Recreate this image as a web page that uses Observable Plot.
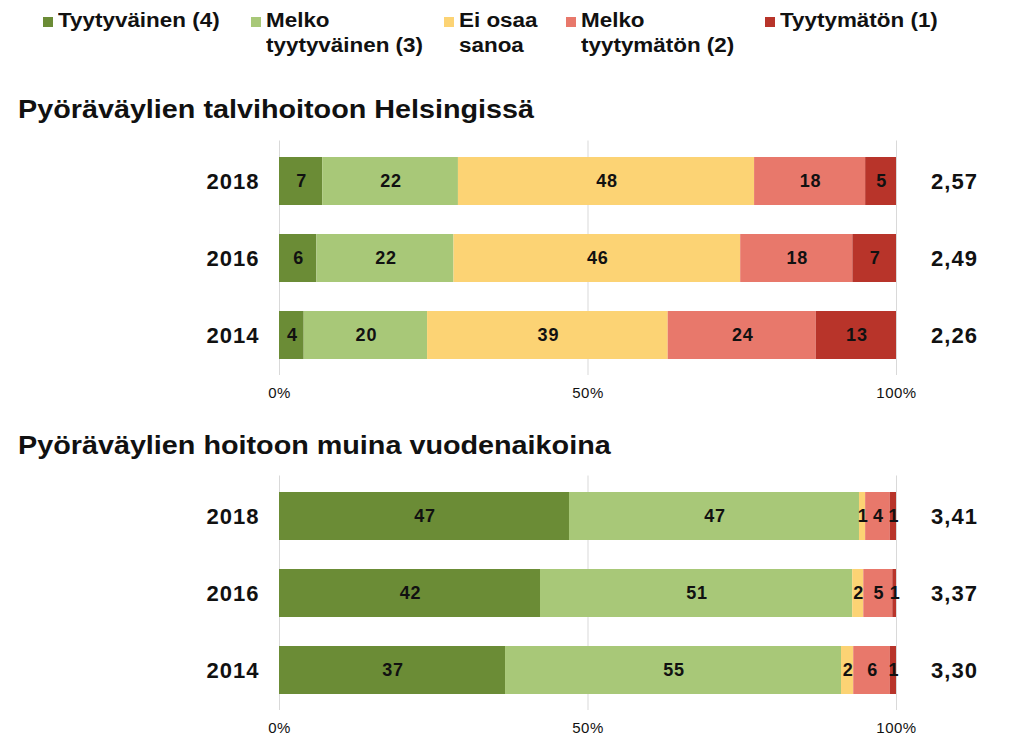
<!DOCTYPE html>
<html>
<head>
<meta charset="utf-8">
<script src="https://cdn.jsdelivr.net/npm/d3@7"></script>
<script src="https://cdn.jsdelivr.net/npm/@observablehq/plot@0.6"></script>
<style>
  html, body { margin: 0; padding: 0; background: #fff; overflow: hidden; }
  #page { position: relative; width: 1023px; height: 741px; font-family: "Liberation Sans", Arial, sans-serif; color: #111; }
  .leg { position: absolute; top: 8px; font-weight: bold; font-size: 19.5px; line-height: 25px; display: flex; align-items: flex-start; }
  .sw { width: 10px; height: 10px; margin-top: 9px; margin-right: 5px; flex: none; }
  .legtxt { transform: scaleX(1.15); transform-origin: 0 0; white-space: nowrap; }
  .title { position: absolute; left: 18px; font-weight: bold; font-size: 25px; transform: scaleX(1.15); transform-origin: 0 0; white-space: nowrap; }
  .chart { position: absolute; left: 0; }
  .chart svg { background: transparent; overflow: visible; }
</style>
</head>
<body>
<div id="page"></div>
<script>
const years = ["2018", "2016", "2014"];
const categories = ["Tyytyväinen (4)", "Melko tyytyväinen (3)", "Ei osaa sanoa", "Melko tyytymätön (2)", "Tyytymätön (1)"];
const legendLabels = [["Tyytyväinen (4)"], ["Melko", "tyytyväinen (3)"], ["Ei osaa", "sanoa"], ["Melko", "tyytymätön (2)"], ["Tyytymätön (1)"]];
const colors = ["#6b8c36", "#a8c878", "#fcd374", "#e8786b", "#b8342a"];

const titleWinter = "Pyöräväylien talvihoitoon Helsingissä";
const winter2018 = [7, 22, 48, 18, 5];
const winter2016 = [6, 22, 46, 18, 7];
const winter2014 = [4, 20, 39, 24, 13];
const winterMeans = [2.57, 2.49, 2.26];

const titleOther = "Pyöräväylien hoitoon muina vuodenaikoina";
const other2018 = [47, 47, 1, 4, 1];
// bar lengths (labels show the rounded values 42, 51, 2, 5, 1)
const other2016 = [42.3, 50.6, 1.8, 4.7, 0.6];
const other2014 = [37, 55, 2, 6, 1];
const otherMeans = [3.41, 3.37, 3.30];

const xTicks = [0, 0.5, 1];

const page = document.getElementById("page");

// Legend
const legendLeft = [43, 251, 444, 566, 765];
legendLabels.forEach((lines, i) => {
  const d = document.createElement("div");
  d.className = "leg";
  d.style.left = legendLeft[i] + "px";
  const sw = document.createElement("div");
  sw.className = "sw";
  sw.style.background = colors[i];
  d.appendChild(sw);
  const t = document.createElement("div");
  t.className = "legtxt";
  t.innerHTML = lines.join("<br>");
  d.appendChild(t);
  page.appendChild(d);
});

function build(rowsByYear, means, title, titleTop, chartTop) {
  const data = [];
  years.forEach((y, yi) => {
    rowsByYear[yi].forEach((v, ci) => data.push({year: y, category: categories[ci], value: v}));
  });
  const meanData = years.map((y, i) => ({year: y, mean: means[i]}));
  const fmt = v => d3.format(".2f")(v).replace(".", ",");

  const tdiv = document.createElement("div");
  tdiv.className = "title";
  tdiv.style.top = titleTop + "px";
  tdiv.textContent = title;
  page.appendChild(tdiv);

  const plot = Plot.plot({
    width: 1023,
    height: 275,
    marginLeft: 279,
    marginRight: 127,
    marginTop: 10.5,
    marginBottom: 30,
    style: {fontFamily: "Liberation Sans, Arial, sans-serif", background: "transparent", color: "#111"},
    x: {domain: [0, 1]},
    y: {domain: years, padding: 0.38, paddingOuter: 0.2},
    color: {domain: categories, range: colors},
    marks: [
      Plot.ruleX(xTicks, {stroke: "#d9d9d9", strokeWidth: 1}),
      Plot.barX(data, Plot.stackX({offset: "normalize", x: "value", y: "year", fill: "category"})),
      Plot.text(data, Plot.stackX({offset: "normalize", x: "value", y: "year", text: d => String(Math.round(d.value)), fontSize: 18, fontWeight: "bold", fill: "#111", dx: 0.5})),
      Plot.text(meanData, {x: () => 1, y: "year", text: d => fmt(d.mean), dx: 58, fontSize: 22, fontWeight: "bold", fill: "#111"}),
      Plot.axisY({tickSize: 0, tickPadding: 20, fontSize: 22, fontWeight: "bold", label: null}),
      Plot.axisX({ticks: xTicks, tickFormat: d3.format(".0%"), tickSize: 0, tickPadding: 12, fontSize: 15, label: null})
    ]
  });
  plot.querySelectorAll("text").forEach(t => {
    const fs = parseFloat(t.closest("[font-size]")?.getAttribute("font-size") || "15");
    t.style.letterSpacing = fs >= 20 ? "1px" : (fs >= 17 ? "0.8px" : "0.5px");
  });
  const c = document.createElement("div");
  c.className = "chart";
  c.style.top = chartTop + "px";
  c.appendChild(plot);
  page.appendChild(c);
}

build([winter2018, winter2016, winter2014], winterMeans, titleWinter, 95, 130);
build([other2018, other2016, other2014], otherMeans, titleOther, 431, 465);
</script>
</body>
</html>
